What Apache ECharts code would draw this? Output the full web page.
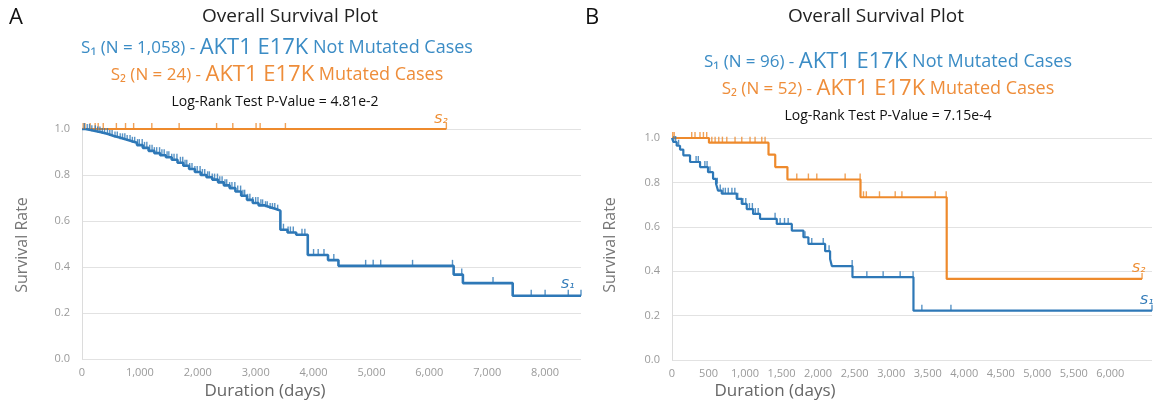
<!DOCTYPE html>
<html>
<head>
<meta charset="utf-8">
<script src="https://cdn.jsdelivr.net/npm/echarts@6/dist/echarts.min.js"></script>
<style>
  html, body { margin: 0; padding: 0; background: #fff; }
  #chart { width: 1156px; height: 405px; }
</style>
</head>
<body>
<div id="chart"></div>
<script>
// panel A - Kaplan-Meier steps [day, survival]
const aNotMutSteps = [
  [0, 1.0], [60, 0.996], [150, 0.99], [250, 0.985], [350, 0.978], [450, 0.97], [550, 0.963],
  [650, 0.955], [750, 0.948], [850, 0.94], [950, 0.93], [1050, 0.918], [1150, 0.905],
  [1250, 0.895], [1350, 0.886], [1450, 0.877], [1550, 0.866], [1650, 0.853], [1750, 0.84],
  [1850, 0.826], [1950, 0.813], [2050, 0.8], [2150, 0.79], [2250, 0.78], [2350, 0.768],
  [2450, 0.755], [2550, 0.743], [2650, 0.728], [2750, 0.71], [2850, 0.692], [2950, 0.678],
  [3050, 0.668], [3150, 0.66], [3250, 0.652], [3350, 0.645], [3427, 0.562], [3550, 0.55],
  [3700, 0.54], [3900, 0.452], [4250, 0.43], [4430, 0.405], [6420, 0.367], [6580, 0.33],
  [7440, 0.275], [8620, 0.275]
];
const aNotMutCensor = [
  40, 90, 130, 170, 230, 270, 310, 350, 390, 440, 480, 520, 570, 610, 660, 700, 740, 780,
  830, 870, 910, 960, 990, 1040, 1080, 1120, 1170, 1210, 1250, 1290, 1340, 1380, 1420, 1470,
  1500, 1550, 1590, 1640, 1700, 1740, 1780, 1810, 1860, 1900, 1950, 1990, 2040, 2080, 2120,
  2170, 2200, 2250, 2290, 2340, 2380, 2420, 2470, 2500, 2550, 2590, 2640, 2690, 2740, 2780,
  2810, 2860, 2900, 2950, 3000, 3040, 3090, 3120, 3170, 3200, 3250, 3290, 3330, 3380, 3480,
  3560, 3600, 3650, 3800, 3850, 4000, 4080, 4180, 4350, 4900, 5030, 5160, 5710, 6400, 6560,
  7100, 7760, 8000, 8400, 8620
];
const aMutSteps = [[0, 1.0], [6294, 1.0]];
const aMutCensor = [
  20, 52, 140, 227, 280, 367, 594, 752, 892, 1206, 1678, 2325, 2605, 3007, 3077, 3514, 6294
];

// panel B
const bNotMutSteps = [
  [0, 1.0], [18, 0.982], [64, 0.965], [110, 0.948], [155, 0.922], [247, 0.892], [384, 0.869],
  [493, 0.846], [562, 0.816], [603, 0.794], [630, 0.763], [681, 0.749], [886, 0.726],
  [955, 0.703], [1023, 0.68], [1110, 0.658], [1205, 0.636], [1434, 0.613], [1640, 0.583],
  [1799, 0.553], [1867, 0.523], [2096, 0.49], [2164, 0.455], [2188, 0.423], [2470, 0.373],
  [3305, 0.222], [6570, 0.222]
];
const bNotMutCensor = [
  25, 50, 90, 330, 360, 384, 450, 480, 520, 620, 660, 700, 730, 770, 820, 860, 900, 970,
  1010, 1060, 1100, 1140, 1180, 1411, 1480, 1540, 1590, 1820, 1913, 2070, 2150, 2466, 2667,
  2890, 3123, 3300, 3420, 3818, 6570
];
const bMutSteps = [
  [0, 1.0], [506, 0.979], [1321, 0.925], [1413, 0.869], [1580, 0.813], [2580, 0.733],
  [3760, 0.365], [6434, 0.365]
];
const bMutCensor = [
  10, 30, 270, 315, 383, 430, 475, 545, 590, 640, 690, 750, 863, 955, 1068, 1137, 1229, 1274,
  1708, 1867, 1982, 2370, 2575, 2621, 2660, 2840, 3055, 3147, 3603, 3753, 6434
];

const BLUE = '#2e78b7';
const ORANGE = '#ee8a2c';
const BLUE_TXT = '#3b8cc5';
const ORANGE_TXT = '#ee8d3a';

// survival value of a step curve at a given day
function atDay(steps, d) {
  let v = steps[0][1];
  for (const s of steps) {
    if (s[0] <= d) v = s[1];
  }
  return v;
}

function curve(steps, idx, color, endText, endOffset, width) {
  return {
    type: 'line',
    step: 'end',
    xAxisIndex: idx,
    yAxisIndex: idx,
    data: steps,
    symbol: 'none',
    lineStyle: { color: color, width: width },
    silent: true,
    endLabel: {
      show: true,
      formatter: endText,
      color: color,
      fontSize: 13,
      fontStyle: 'italic',
      fontFamily: 'DejaVu Sans',
      offset: endOffset
    },
    z: 3
  };
}

function censor(days, steps, idx, color) {
  return {
    type: 'scatter',
    xAxisIndex: idx,
    yAxisIndex: idx,
    data: days.map(d => [d, atDay(steps, d)]),
    symbol: 'rect',
    symbolSize: [1.4, 6],
    symbolOffset: [0, -3],
    itemStyle: { color: color },
    silent: true,
    z: 4
  };
}

const axisFont = { color: '#9a9a9a', fontSize: 11, fontFamily: 'Open Sans' };

function xAxis(idx, max, interval, lastLabel) {
  return {
    type: 'value',
    gridIndex: idx,
    min: 0,
    max: max,
    interval: interval,
    axisLine: { show: false },
    axisTick: { show: false },
    splitLine: { show: false },
    axisLabel: Object.assign({}, axisFont, {
      margin: 8,
      showMaxLabel: false,
      formatter: v => (v > lastLabel ? '' : v.toLocaleString('en-US'))
    })
  };
}

function yAxis(idx) {
  return {
    type: 'value',
    gridIndex: idx,
    min: 0,
    max: 1,
    interval: 0.2,
    axisLine: { show: true, lineStyle: { color: '#dcdcdc' } },
    axisTick: { show: false },
    splitLine: { lineStyle: { color: '#e2e2e2', width: 1.2 } },
    axisLabel: Object.assign({}, axisFont, { margin: 12, formatter: v => v.toFixed(1) })
  };
}

function headerText(x, y, text, rich) {
  return {
    type: 'text',
    x: x,
    y: y,
    style: {
      text: text,
      rich: rich,
      align: 'center',
      verticalAlign: 'middle'
    }
  };
}

function legendRich(color) {
  return {
    s: { fontSize: 17, fill: color, fontFamily: 'Open Sans' },
    b: { fontSize: 22, fill: color, fontFamily: 'Open Sans' },
    m: { fontSize: 18, fill: color, fontFamily: 'Open Sans' }
  };
}

const plain = (size, color) => ({ t: { fontSize: size, fill: color, fontFamily: 'Open Sans' } });

const chart = echarts.init(document.getElementById('chart'));

chart.setOption({
  animation: false,
  grid: [
    { left: 82, top: 129, width: 499, height: 230 },
    { left: 672, top: 138, width: 480, height: 222 }
  ],
  xAxis: [xAxis(0, 8620, 1000, 8000), xAxis(1, 6570, 500, 6000)],
  yAxis: [yAxis(0), yAxis(1)],
  series: [
    curve(aMutSteps, 0, ORANGE, 'S\u2082', [-20, -9], 2.2),
    curve(aNotMutSteps, 0, BLUE, 'S\u2081', [-28, -11], 2.6),
    censor(aMutCensor, aMutSteps, 0, ORANGE),
    censor(aNotMutCensor, aNotMutSteps, 0, BLUE),
    curve(bMutSteps, 1, ORANGE, 'S\u2082', [-18, -10], 2.2),
    curve(bNotMutSteps, 1, BLUE, 'S\u2081', [-20, -10], 2.2),
    censor(bMutCensor, bMutSteps, 1, ORANGE),
    censor(bNotMutCensor, bNotMutSteps, 1, BLUE)
  ],
  graphic: [
    headerText(16, 18, '{t|A}', plain(22, '#111')),
    headerText(290, 17, '{t|Overall Survival Plot}', plain(19, '#222')),
    headerText(277, 48, '{s|S\u2081 (N = 1,058) - }{b|AKT1 E17K}{m| Not Mutated Cases}', legendRich(BLUE_TXT)),
    headerText(277, 75, '{s|S\u2082 (N = 24) - }{b|AKT1 E17K}{m| Mutated Cases}', legendRich(ORANGE_TXT)),
    headerText(275, 102, '{t|Log-Rank Test P-Value = 4.81e-2}', plain(14, '#111')),
    headerText(265, 391, '{t|Duration (days)}', plain(17, '#666')),
    {
      type: 'text', x: 22, y: 245, rotation: Math.PI / 2,
      style: { text: 'Survival Rate', fontSize: 16, fill: '#777', fontFamily: 'Open Sans', align: 'center', verticalAlign: 'middle' }
    },
    headerText(592, 18, '{t|B}', plain(22, '#111')),
    headerText(876, 17, '{t|Overall Survival Plot}', plain(19, '#222')),
    headerText(888, 62, '{s|S\u2081 (N = 96) - }{b|AKT1 E17K}{m| Not Mutated Cases}', legendRich(BLUE_TXT)),
    headerText(888, 89, '{s|S\u2082 (N = 52) - }{b|AKT1 E17K}{m| Mutated Cases}', legendRich(ORANGE_TXT)),
    headerText(888, 116, '{t|Log-Rank Test P-Value = 7.15e-4}', plain(14, '#111')),
    headerText(775, 391, '{t|Duration (days)}', plain(17, '#666')),
    {
      type: 'text', x: 610, y: 245, rotation: Math.PI / 2,
      style: { text: 'Survival Rate', fontSize: 16, fill: '#777', fontFamily: 'Open Sans', align: 'center', verticalAlign: 'middle' }
    }
  ]
});
</script>
</body>
</html>
